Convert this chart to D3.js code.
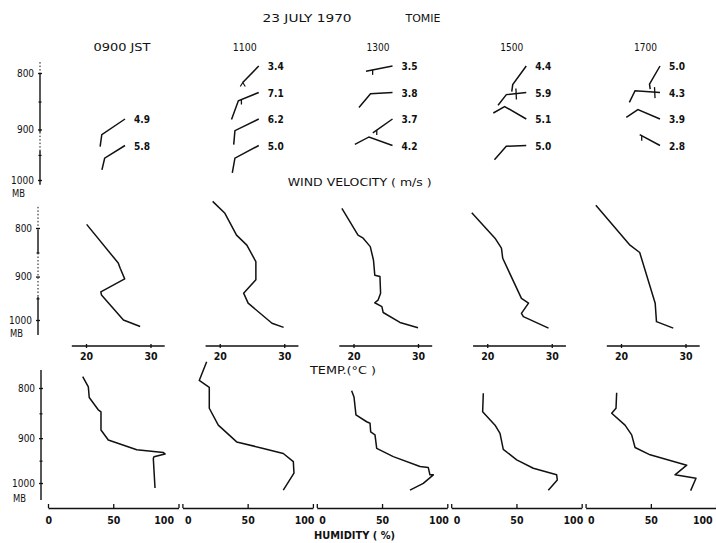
<!DOCTYPE html>
<html><head><meta charset="utf-8">
<script src="https://cdn.jsdelivr.net/npm/d3@7"></script>
<style>
body{margin:0;background:#fff;}
svg{display:block;font-family:"DejaVu Sans Condensed","DejaVu Sans",sans-serif;}
</style></head>
<body><svg id="c" width="716" height="543"></svg>
<script>
// ---------- DATA ----------
const times = ["0900 JST","1100","1300","1500","1700"];
const pressureTicks = [800, 900, 1000];
const minorPressureTicks = [850, 950];
const tempTicks = [20, 30];
const humTicks = [0, 50, 100];

// Wind (rows 1..4 from top); speeds in m/s
const windSpeed = [[null,null,"4.9","5.8"],["3.4","7.1","6.2","5.0"],["3.5","3.8","3.7","4.2"],["4.4","5.9","5.1","5.0"],["5.0","4.3","3.9","2.8"]];
const windHeadDir = [[0,0,146,148],[134,158,154,152],[169,177,145,200],[126,174,210,178],[120,184,203,208]];
const windHeadLen = [[0,0,28,24],[23,22,26.5,27],[27,22,24,25],[23,20,25,20],[21,25,24,23]];
const windTailDir = [[0,0,98,103],[0,110,95,100],[0,130,0,152],[98,128,150,131],[82,116,146,0]];
const windTailLen = [[0,0,12,12],[0,20,14,15],[0,18,0,16],[7,13.5,13,18],[5,13,14,0]];
const windMark = [["","","",""],["lam","down","",""],["down","","down",""],["","cross","",""],["","cross","","down"]];
const windMarkAt = [[0,0,0,0],[1,0.85,0,0],[0.75,0,0.8,0],[0,0.52,0,0],[0,0.22,0,0.9]];

// Temperature profiles: pressure (mb) / temperature (°C)
const tempP0900 = [793, 871, 882, 905, 934, 941, 1000, 1016];
const tempT0900 = [20.1, 25.0, 25.3, 26.0, 22.3, 22.4, 25.8, 28.4];
const tempP1100 = [750, 772, 814, 834, 868, 907, 937, 960, 1008, 1018];
const tempT1100 = [18.9, 20.8, 22.6, 24.2, 25.6, 25.6, 23.7, 24.4, 28.1, 29.9];
const tempP1300 = [763, 814, 820, 837, 865, 897, 900, 937, 953, 959, 968, 982, 1006, 1019];
const tempT1300 = [18.2, 20.7, 21.5, 22.6, 23.1, 23.3, 24.1, 24.2, 23.8, 23.3, 24.4, 24.6, 27.2, 30.0];
const tempP1500 = [771, 820, 840, 861, 949, 960, 984, 992, 1020];
const tempT1500 = [17.6, 21.2, 22.2, 22.4, 25.3, 26.4, 25.3, 25.6, 29.5];
const tempP1700 = [757, 834, 849, 960, 1004, 1020];
const tempT1700 = [16.1, 21.4, 22.9, 25.3, 25.5, 28.1];

// Humidity profiles: pressure (mb) / relative humidity (%)
const humP0900 = [779, 798, 818, 842, 846, 883, 904, 925, 931, 934, 940, 944, 1012];
const humH0900 = [26.6, 30.9, 31.6, 38.5, 40.6, 40.6, 46.2, 68.0, 88.4, 89.7, 81.2, 80.7, 82.0];
const humP1100 = [752, 786, 799, 839, 873, 908, 922, 933, 951, 977, 1017];
const humH1100 = [18.6, 12.9, 20.6, 20.6, 27.5, 41.6, 62.0, 77.3, 85.0, 85.5, 77.3];
const humP1300 = [805, 817, 852, 866, 869, 887, 893, 922, 940, 962, 964, 981, 981, 1001, 1017];
const humH1300 = [26.7, 28.5, 30.0, 38.2, 40.8, 41.3, 44.6, 45.9, 58.6, 79.1, 85.4, 86.7, 89.3, 81.6, 71.4];
const humP1500 = [810, 846, 873, 890, 924, 947, 966, 981, 993, 1017];
const humH1500 = [24.6, 24.1, 33.6, 37.4, 39.9, 50.2, 62.9, 80.8, 81.3, 74.4];
const humP1700 = [809, 839, 849, 873, 893, 920, 936, 959, 981, 989, 1018];
const humH1700 = [23.8, 23.3, 20.0, 30.2, 35.3, 37.9, 49.4, 77.5, 68.5, 84.6, 80.5];

const tempP = [tempP0900, tempP1100, tempP1300, tempP1500, tempP1700];
const tempT = [tempT0900, tempT1100, tempT1300, tempT1500, tempT1700];
const humP = [humP0900, humP1100, humP1300, humP1500, humP1700];
const humH = [humH0900, humH1100, humH1300, humH1500, humH1700];

// ---------- LAYOUT ----------
const svg = d3.select("#c");
const ink = "#111";
const yWind = d3.scaleLog().domain([800, 1000]).range([73, 180]);
const yTemp = d3.scaleLog().domain([800, 1000]).range([228, 320]);
const yHum  = d3.scaleLog().domain([800, 1000]).range([388, 483]);
const xWind = d3.scalePoint().domain(times).range([125, 660]);
const yRow = d3.scaleLinear().domain([1, 4]).range([66, 145.5]);
const xTemp = i => d3.scaleLinear().domain([20, 30]).range([86 + 133.75 * i, 150.5 + 133.75 * i]);
const xHum = i => d3.scaleLinear().domain([0, 100]).range([48 + 134.4 * i, 178.5 + 134.4 * i]);

function txt(x, y, s, opts = {}) {
  const t = svg.append("text").attr("x", x).attr("y", y).text(s)
    .attr("fill", ink).attr("font-size", opts.size || 10)
    .attr("text-anchor", opts.anchor || "start")
    .attr("font-weight", opts.weight || "normal");
  if (opts.len) t.attr("textLength", opts.len).attr("lengthAdjust", "spacingAndGlyphs");
  return t;
}

// Title
txt(262.6, 22, "23 JULY 1970", {len: 89, size: 10});
txt(405.5, 22, "TOMIE", {len: 35, size: 10});

// Time labels
times.forEach((t, i) => {
  const x = xWind(t) - (i === 0 ? 31.5 : 26);
  txt(x, 51, t, {len: i === 0 ? 57 : (i === 1 ? 24 : 23), size: 10});
});

// ---------- PRESSURE AXES ----------
function pressureAxis(scale, x, segs, mbY) {
  const g = svg.append("g").attr("transform", `translate(${x},0)`);
  segs.forEach(s => {
    g.append("line").attr("x1", 0).attr("x2", 0)
      .attr("y1", scale(s[0])).attr("y2", scale(s[1]))
      .attr("stroke", ink).attr("stroke-width", s[2] ? 1 : 1.4)
      .attr("stroke-dasharray", s[2] ? "1.5,2" : null);
  });
  const ax = d3.axisLeft(scale).tickValues(pressureTicks).tickSizeInner(2).tickSizeOuter(0).tickPadding(4)
    .tickFormat(d3.format("d"));
  const a = g.append("g").call(ax);
  a.select(".domain").remove();
  a.selectAll(".tick line").attr("x1", -2).attr("x2", 2).attr("stroke", ink).attr("stroke-width", 1.3);
  a.selectAll(".tick text").attr("font-size", 10).attr("fill", ink)
    .attr("font-family", "'DejaVu Sans Condensed','DejaVu Sans',sans-serif").attr("textLength", function(d){return d===1000?23:17;});
  minorPressureTicks.forEach(p => {
    g.append("line").attr("x1", -1.5).attr("x2", 1.5).attr("y1", scale(p)).attr("y2", scale(p))
      .attr("stroke", ink).attr("stroke-width", 1.2);
  });
  txt(x - 28, mbY, "MB", {size: 10, len: 13});
}
pressureAxis(yWind, 40, [[782, 800, true], [800, 905, false], [905, 940, true], [940, 1010, false]], 197);
pressureAxis(yTemp, 38, [[760, 803, true], [803, 850, false], [850, 945, true], [945, 1037, false]], 337);
pressureAxis(yHum, 41, [[767, 1041, false]], 502);

// ---------- WIND SYMBOLS ----------
txt(287.7, 186, "WIND VELOCITY ( m/s )", {len: 144, size: 10});
const rad = d => d * Math.PI / 180;
const line = d3.line();
times.forEach((t, i) => {
  windSpeed[i].forEach((sp, r) => {
    if (sp === null) return;
    const ax = xWind(t), ay = yRow(r + 1);
    const kx = ax + windHeadLen[i][r] * Math.cos(rad(windHeadDir[i][r]));
    const ky = ay + windHeadLen[i][r] * Math.sin(rad(windHeadDir[i][r]));
    const pts = [[ax, ay], [kx, ky]];
    if (windTailLen[i][r] > 0) {
      pts.push([kx + windTailLen[i][r] * Math.cos(rad(windTailDir[i][r])),
                ky + windTailLen[i][r] * Math.sin(rad(windTailDir[i][r]))]);
    }
    svg.append("path").attr("d", line(pts)).attr("fill", "none")
      .attr("stroke", ink).attr("stroke-width", 1.5).attr("stroke-linejoin", "miter");
    const m = windMark[i][r], f = windMarkAt[i][r];
    const mx = ax + (kx - ax) * f, my = ay + (ky - ay) * f;
    if (m === "down") {
      svg.append("line").attr("x1", mx).attr("y1", my).attr("x2", mx).attr("y2", my + 5)
        .attr("stroke", ink).attr("stroke-width", 1.3);
    } else if (m === "cross") {
      svg.append("line").attr("x1", mx).attr("y1", my - 5).attr("x2", mx + 0.5).attr("y2", my + 6)
        .attr("stroke", ink).attr("stroke-width", 1.3);
    } else if (m === "lam") {
      svg.append("path").attr("d", line([[mx - 2.5, my + 4], [mx, my], [mx + 2.5, my + 4]]))
        .attr("fill", "none").attr("stroke", ink).attr("stroke-width", 1.2);
    }
    txt(ax + 9, ay + 4, sp, {size: 11, weight: "bold", len: 16});
  });
});

// ---------- TEMPERATURE ----------
times.forEach((t, i) => {
  const xs = xTemp(i);
  const g = svg.append("g");
  g.append("line").attr("x1", xs(17.8)).attr("x2", xs(32.2)).attr("y1", 346).attr("y2", 346)
    .attr("stroke", ink).attr("stroke-width", 1.4);
  const ax = d3.axisBottom(xs).tickValues(tempTicks).tickSizeInner(2).tickSizeOuter(0).tickPadding(5);
  const a = g.append("g").attr("transform", "translate(0,346)").call(ax);
  a.select(".domain").remove();
  a.selectAll(".tick line").attr("y1", -2).attr("y2", 2).attr("stroke", ink).attr("stroke-width", 1.3);
  a.selectAll(".tick text").attr("font-size", 10.5).attr("font-weight", "bold").attr("fill", ink)
    .attr("font-family", "'DejaVu Sans Condensed','DejaVu Sans',sans-serif");
  const data = tempP[i].map((p, j) => [xs(tempT[i][j]), yTemp(p)]);
  svg.append("path").attr("d", line(data)).attr("fill", "none")
    .attr("stroke", ink).attr("stroke-width", 1.5).attr("stroke-linejoin", "round");
});
txt(310, 374, "TEMP.(°C )", {len: 66, size: 10});

// ---------- HUMIDITY ----------
times.forEach((t, i) => {
  const xs = xHum(i);
  const g = svg.append("g");
  const ax = d3.axisBottom(xs).tickValues(humTicks).tickSizeInner(-4).tickSizeOuter(0).tickPadding(9);
  const a = g.append("g").attr("transform", "translate(0,508)").call(ax);
  a.select(".domain").attr("stroke", ink).attr("stroke-width", 1.6);
  a.selectAll(".tick line").attr("stroke", ink).attr("stroke-width", 1.3);
  a.selectAll(".tick text").attr("font-size", 10.5).attr("font-weight", "bold").attr("fill", ink)
    .attr("font-family", "'DejaVu Sans Condensed','DejaVu Sans',sans-serif")
    .attr("text-anchor", d => d === 0 ? "start" : (d === 100 ? "end" : "middle"))
    .attr("dx", d => d === 0 ? (i === 0 ? -3 : 2) : (d === 100 ? (i === 0 ? -5 : (i === 4 ? -4 : 1)) : 0));
  const data = humP[i].map((p, j) => [xs(humH[i][j]), yHum(p)]);
  svg.append("path").attr("d", line(data)).attr("fill", "none")
    .attr("stroke", ink).attr("stroke-width", 1.5).attr("stroke-linejoin", "round");
});
txt(314, 539, "HUMIDITY ( %)", {len: 81, size: 10, weight: "bold"});
</script>
</body></html>
